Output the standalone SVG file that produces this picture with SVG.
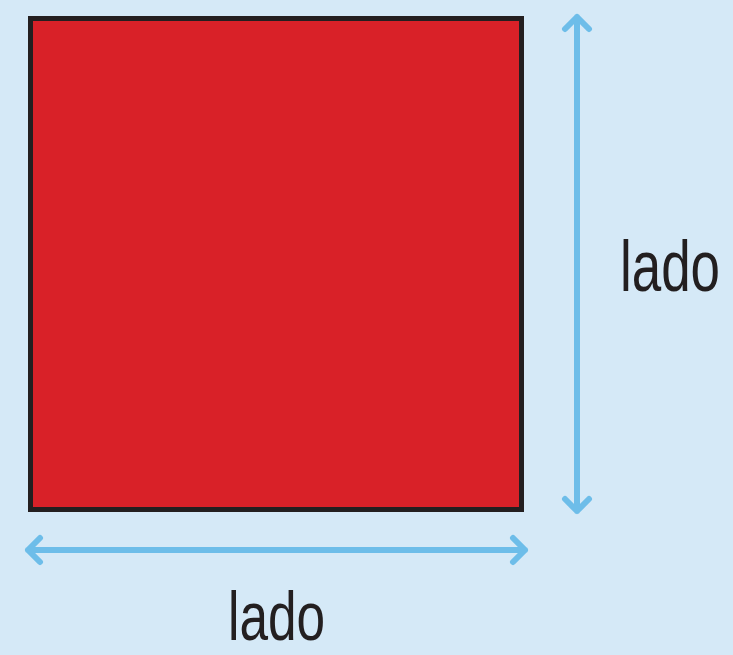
<svg xmlns="http://www.w3.org/2000/svg" width="733" height="655" viewBox="0 0 733 655">
<style>
.arr{fill:none;stroke:#6dbde9;stroke-width:6;stroke-linecap:round;stroke-linejoin:round}
.lbl{font-family:"Liberation Sans",Arial,sans-serif;font-size:72px;fill:#231f20}
</style>
<rect width="733" height="655" fill="#d5e9f7"/>
<g id="square"><rect x="30.5" y="18.5" width="491" height="491" fill="#d92128" stroke="#231f20" stroke-width="5"/></g>
<g id="connectors">
<path class="arr" d="M577 17V511M565 29L577 17L589 29M565 499L577 511L589 499"/>
<path class="arr" d="M28 550H525M40 538L28 550L40 562M513 538L525 550L513 562"/>
</g>
<g id="label-right"><text class="lbl" transform="translate(620 291) scale(0.735 1)">lado</text></g>
<g id="label-bottom"><text class="lbl" style="font-size:68px" transform="translate(228 640) scale(0.755 1)">lado</text></g>
</svg>
